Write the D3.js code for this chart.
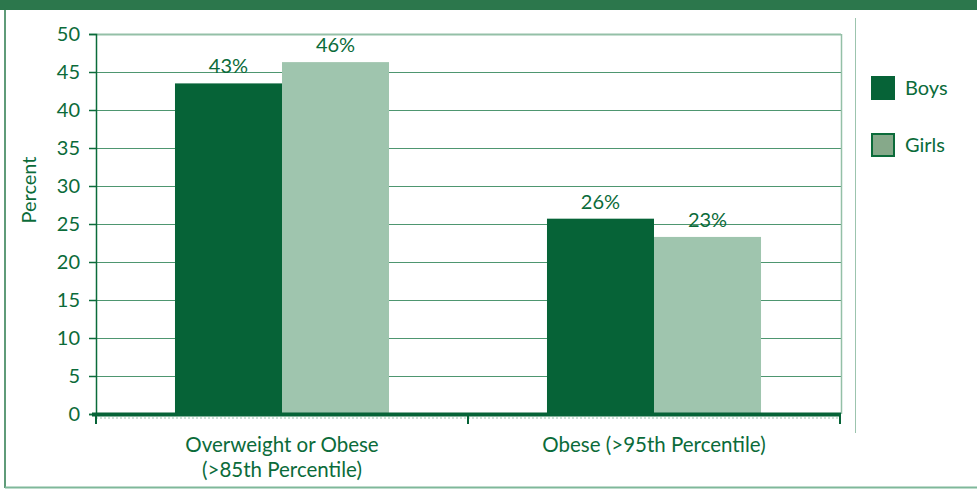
<!DOCTYPE html>
<html>
<head>
<meta charset="utf-8">
<script src="https://cdn.jsdelivr.net/npm/d3@7/dist/d3.min.js"></script>
<style>
  html, body { margin: 0; padding: 0; background: #fff; }
  svg { display: block; }
  text { font-family: "Lato", "DejaVu Sans", sans-serif; fill: #0b6b3a; }
</style>
</head>
<body>
<svg id="chart" width="977" height="489"></svg>
<script>
const categories = ["Overweight or Obese\n(>85th Percentile)", "Obese (>95th Percentile)"];
const series = ["Boys", "Girls"];
const boysValues = [43.5, 25.7];
const girlsValues = [46.3, 23.3];
const valueLabels = [["43%", "46%"], ["26%", "23%"]];
const yTicks = [0, 5, 10, 15, 20, 25, 30, 35, 40, 45, 50];

const colors = { Boys: "#066337", Girls: "#9fc5ae" };
const svg = d3.select("#chart");

const x0 = d3.scaleBand().domain(categories).range([96, 840]).paddingInner(0).paddingOuter(0);
const x1 = d3.scaleBand().domain(series).range([0, x0.bandwidth()]).paddingInner(0).paddingOuter(0.738);
const y = d3.scaleLinear().domain([0, 50]).range([414, 34]);

// frame
svg.append("rect").attr("x", 0).attr("y", 0).attr("width", 977).attr("height", 10).attr("fill", "#2c774c");
svg.append("line").attr("x1", 5).attr("x2", 5).attr("y1", 10).attr("y2", 488).attr("stroke", "#2a7a4c").attr("stroke-width", 1.5);
svg.append("line").attr("x1", 5).attr("x2", 977).attr("y1", 487.5).attr("y2", 487.5).attr("stroke", "#7fb89a").attr("stroke-width", 2);
svg.append("line").attr("x1", 855.5).attr("x2", 855.5).attr("y1", 18).attr("y2", 433).attr("stroke", "#9cc4ae").attr("stroke-width", 1);

// gridlines
const grid = svg.append("g");
grid.selectAll("line").data(yTicks.filter(t => t > 0)).join("line")
  .attr("x1", 96).attr("x2", 841)
  .attr("y1", d => y(d) + 0.5).attr("y2", d => y(d) + 0.5)
  .attr("stroke", d => d === 50 ? "#94c0a7" : "#4e9670")
  .attr("stroke-width", d => d === 50 ? 2 : 1.2);
svg.append("line").attr("x1", 841.5).attr("x2", 841.5).attr("y1", y(50)).attr("y2", y(0))
  .attr("stroke", "#94c0a7").attr("stroke-width", 1.5);

// bars
const data = categories.map((c, i) => ({ cat: c, vals: [
  { s: "Boys", v: boysValues[i], label: valueLabels[i][0] },
  { s: "Girls", v: girlsValues[i], label: valueLabels[i][1] }
]}));
const groups = svg.append("g").selectAll("g").data(data).join("g")
  .attr("transform", d => `translate(${x0(d.cat)},0)`);
groups.selectAll("rect").data(d => d.vals).join("rect")
  .attr("x", d => x1(d.s)).attr("width", x1.bandwidth())
  .attr("y", d => y(d.v)).attr("height", d => y(0) - y(d.v))
  .attr("fill", d => colors[d.s]);
groups.selectAll("text").data(d => d.vals).join("text")
  .attr("x", d => x1(d.s) + x1.bandwidth() / 2)
  .attr("y", d => y(d.v) - 10)
  .attr("text-anchor", "middle")
  .attr("font-size", 20)
  .text(d => d.label);

// y axis
const yAxis = svg.append("g").attr("transform", "translate(96,0)")
  .call(d3.axisLeft(y).tickValues(yTicks).tickSize(7).tickPadding(9).tickFormat(d3.format("d")));
yAxis.select(".domain").attr("stroke", "#0b6b3a").attr("stroke-width", 1.5);
yAxis.selectAll(".tick line").attr("stroke", "#0b6b3a").attr("stroke-width", 1.5);
yAxis.selectAll(".tick text").attr("font-size", 20).attr("font-family", "Lato, sans-serif").attr("fill", "#0b6b3a");

// x axis
const xAxis = svg.append("g").attr("transform", "translate(0,414)")
  .call(d3.axisBottom(x0).tickValues([]).tickSizeOuter(0));
xAxis.select(".domain").remove();
svg.append("line").attr("x1", 92).attr("x2", 841).attr("y1", 414.5).attr("y2", 414.5)
  .attr("stroke", "#066337").attr("stroke-width", 4);
svg.append("line").attr("x1", 96).attr("x2", 841).attr("y1", 418).attr("y2", 418)
  .attr("stroke", "#9cc4ae").attr("stroke-width", 1).attr("stroke-dasharray", "2,2");
const boundaries = [x0.range()[0], ...categories.slice(1).map(c => x0(c)), x0.range()[1]];
svg.append("g").selectAll("line").data(boundaries).join("line")
  .attr("x1", d => d).attr("x2", d => d).attr("y1", 414).attr("y2", 424)
  .attr("stroke", "#066337").attr("stroke-width", 2);

// category labels
svg.append("g").selectAll("text").data(categories).join("text")
  .attr("x", d => x0(d) + x0.bandwidth() / 2)
  .attr("y", 452)
  .attr("text-anchor", "middle")
  .attr("font-size", 20.5)
  .each(function(d) {
    const lines = d.split("\n");
    d3.select(this).selectAll("tspan").data(lines).join("tspan")
      .attr("x", x0(d) + x0.bandwidth() / 2)
      .attr("dy", (l, i) => i === 0 ? 0 : 25)
      .text(l => l);
  });

// y title
svg.append("text").attr("transform", "translate(36,190) rotate(-90)")
  .attr("text-anchor", "middle").attr("font-size", 20).text("Percent");

// legend
const legend = svg.append("g").selectAll("g").data(series).join("g")
  .attr("transform", (d, i) => `translate(871,${76 + i * 57})`);
legend.append("rect").attr("x", d => d === "Girls" ? 1 : 0).attr("y", d => d === "Girls" ? 1 : 0)
  .attr("width", d => d === "Girls" ? 22 : 24).attr("height", d => d === "Girls" ? 22 : 24)
  .attr("fill", d => d === "Girls" ? "#86a98a" : colors.Boys)
  .attr("stroke", d => d === "Girls" ? "#0b6b3a" : "none").attr("stroke-width", 2);
legend.append("text").attr("x", 34).attr("y", 19).attr("font-size", 20).text(d => d);
</script>
</body>
</html>
